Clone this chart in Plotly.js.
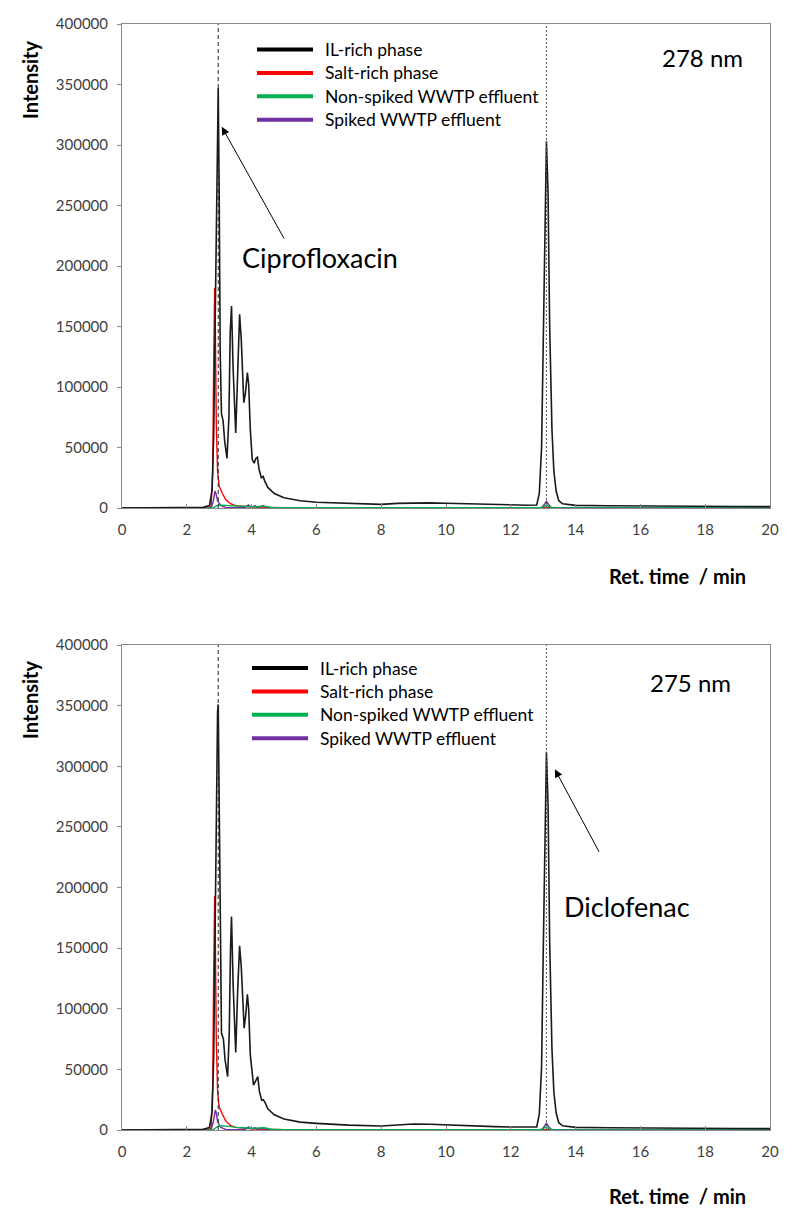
<!DOCTYPE html>
<html><head><meta charset="utf-8">
<script src="https://cdn.plot.ly/plotly-3.0.1.min.js"></script>
<style>body{margin:0;background:#fff}#c{width:800px;height:1226px}</style>
</head><body><div id="c"></div>
<script>
// ---------- DATA ----------
const seriesNames = ["IL-rich phase", "Salt-rich phase", "Non-spiked WWTP effluent", "Spiked WWTP effluent"];
const wavelengths = ["278 nm", "275 nm"];
const compounds = ["Ciprofloxacin", "Diclofenac"];
const refTimes = [2.97, 13.1];
const xTicks = [0, 2, 4, 6, 8, 10, 12, 14, 16, 18, 20];
const yTicks = [0, 50000, 100000, 150000, 200000, 250000, 300000, 350000, 400000];

// 278 nm panel
const ilTime278 = [0, 2.5, 2.7, 2.78, 2.83, 2.88, 2.92, 2.95, 2.97, 3.0, 3.03, 3.07, 3.12, 3.17, 3.24, 3.3, 3.34, 3.38, 3.43, 3.51, 3.57, 3.63, 3.68, 3.76, 3.81, 3.87, 3.91, 3.96, 4.02, 4.08, 4.13, 4.18, 4.23, 4.3, 4.36, 4.41, 4.5, 4.7, 5.0, 5.5, 6.0, 7.0, 8.0, 8.5, 9.0, 9.5, 10.0, 10.5, 11.0, 11.5, 12.0, 12.5, 12.8, 12.88, 12.95, 13.0, 13.05, 13.1, 13.15, 13.2, 13.27, 13.33, 13.4, 13.48, 13.6, 13.8, 14, 15, 16, 17, 18, 19, 20];
const ilInt278 = [0, 500, 2000, 15000, 60000, 170000, 285000, 340000, 347000, 260000, 130000, 78000, 72000, 55000, 41000, 75000, 145000, 167000, 115000, 62000, 120000, 160000, 140000, 87000, 95000, 112000, 102000, 65000, 40000, 37000, 41000, 42000, 32000, 25000, 26000, 22000, 17000, 12000, 8500, 6000, 4800, 3600, 3000, 3800, 4300, 4200, 3900, 3500, 3000, 2700, 2500, 2300, 2500, 12000, 50000, 140000, 240000, 303000, 260000, 150000, 65000, 30000, 14000, 6000, 3500, 2600, 2200, 1900, 1600, 1400, 1300, 1200, 1100];
const saltTime278 = [0, 2.6, 2.75, 2.8, 2.83, 2.86, 2.88, 2.91, 2.95, 3.0, 3.1, 3.2, 3.35, 3.5, 4.0, 5.0, 20];
const saltInt278 = [0, 0, 1000, 30000, 120000, 182000, 150000, 70000, 30000, 18000, 12000, 7000, 3500, 2000, 800, 300, 0];
const nonTime278 = [0, 2.8, 2.9, 3.0, 3.3, 3.6, 4.0, 4.4, 4.6, 5.0, 12.9, 13.05, 13.1, 13.15, 13.3, 20];
const nonInt278 = [0, 0, 1500, 2500, 2000, 1500, 1000, 1500, 500, 200, 200, 1500, 2500, 1500, 200, 0];
const spkTime278 = [0, 2.75, 2.82, 2.87, 2.9, 2.95, 3.0, 3.05, 3.2, 3.8, 3.9, 4.0, 4.1, 4.2, 4.35, 4.45, 5.0, 12.95, 13.05, 13.1, 13.15, 13.25, 20];
const spkInt278 = [0, 0, 6000, 14000, 12000, 6000, 4000, 2000, 500, 300, 2500, 500, 2000, 300, 2000, 300, 0, 0, 3500, 5500, 3500, 0, 0];

// 275 nm panel
const ilTime275 = [0, 2.5, 2.7, 2.78, 2.83, 2.88, 2.92, 2.95, 2.97, 3.0, 3.03, 3.07, 3.13, 3.18, 3.26, 3.31, 3.35, 3.38, 3.43, 3.51, 3.57, 3.63, 3.68, 3.77, 3.82, 3.87, 3.91, 3.96, 4.06, 4.13, 4.19, 4.24, 4.31, 4.36, 4.41, 4.5, 4.7, 5.0, 5.5, 6.0, 7.0, 8.0, 8.5, 9.0, 9.5, 10.0, 10.5, 11.0, 11.5, 12.0, 12.5, 12.8, 12.88, 12.95, 13.0, 13.05, 13.1, 13.15, 13.2, 13.27, 13.33, 13.4, 13.48, 13.6, 13.8, 14, 15, 16, 17, 18, 19, 20];
const ilInt275 = [0, 500, 2000, 15000, 60000, 175000, 290000, 345000, 351000, 265000, 135000, 80000, 75000, 58000, 44000, 80000, 150000, 176000, 120000, 64000, 115000, 152000, 135000, 84000, 95000, 112000, 100000, 62000, 37000, 41000, 44000, 32000, 24500, 25000, 23000, 17500, 12500, 9000, 6500, 5500, 4000, 3300, 4200, 5000, 4700, 4100, 3600, 3100, 2800, 2500, 2300, 2500, 13000, 52000, 145000, 250000, 312000, 268000, 155000, 67000, 31000, 14000, 6000, 3500, 2600, 2200, 1900, 1600, 1400, 1300, 1200, 1100];
const saltTime275 = [0, 2.6, 2.75, 2.8, 2.83, 2.86, 2.88, 2.91, 2.95, 3.0, 3.1, 3.2, 3.35, 3.5, 4.0, 5.0, 20];
const saltInt275 = [0, 0, 1000, 35000, 130000, 193000, 160000, 75000, 32000, 19000, 13000, 7500, 3800, 2200, 900, 300, 0];
const nonTime275 = [0, 2.8, 2.9, 3.0, 3.3, 3.6, 4.0, 4.4, 4.6, 5.0, 12.9, 13.05, 13.1, 13.15, 13.3, 20];
const nonInt275 = [0, 0, 2000, 3500, 3000, 2000, 1500, 1800, 600, 200, 200, 1500, 2500, 1500, 200, 0];
const spkTime275 = [0, 2.75, 2.82, 2.88, 2.91, 2.95, 3.0, 3.05, 3.2, 3.8, 3.9, 4.0, 4.1, 4.2, 4.35, 4.45, 5.0, 12.95, 13.05, 13.1, 13.15, 13.25, 20];
const spkInt275 = [0, 0, 7000, 16500, 14000, 7000, 4500, 2200, 500, 300, 2500, 500, 2000, 300, 2000, 300, 0, 0, 3500, 5500, 3500, 0, 0];

// ---------- STYLE ----------
const colors = ["#1a1a1a", "#ff0000", "#00b050", "#7030a0"];
const legendColors = ["#000000", "#ff0000", "#00b050", "#7030a0"];
const FONT = "Lato, 'Open Sans', sans-serif";
const W = 800, H = 1226;
const px = v => v / W, py = v => 1 - v / H;

const panels = [
  {xa: "x", ya: "y", xk: "xaxis", yk: "yaxis", top: 24, bot: 508,
   data: [[ilTime278, ilInt278], [saltTime278, saltInt278], [nonTime278, nonInt278], [spkTime278, spkInt278]],
   legTop: 49.5, legX0: 257, legX1: 313, legTx: 323},
  {xa: "x2", ya: "y2", xk: "xaxis2", yk: "yaxis2", top: 645, bot: 1130,
   data: [[ilTime275, ilInt275], [saltTime275, saltInt275], [nonTime275, nonInt275], [spkTime275, spkInt275]],
   legTop: 668, legX0: 252, legX1: 308, legTx: 318}
];

const traces = [];
const layout = {
  width: W, height: H, margin: {l: 0, r: 0, t: 0, b: 0},
  paper_bgcolor: "#fff", plot_bgcolor: "#fff", showlegend: false,
  font: {family: FONT, color: "#404040"},
  shapes: [], annotations: []
};

function note(x, y, text, size, extra) {
  return Object.assign({xref: "paper", yref: "paper", x: px(x), y: py(y), xanchor: "center", yanchor: "middle",
    text: text, showarrow: false, font: {size: size, color: "#000", family: FONT}}, extra || {});
}

panels.forEach((p, pi) => {
  const order = [1, 3, 2, 0];
  order.forEach(si => {
    traces.push({x: p.data[si][0], y: p.data[si][1], xaxis: p.xa, yaxis: p.ya, type: "scatter", mode: "lines",
      name: seriesNames[si], line: {color: colors[si], width: si === 0 ? 1.6 : 1.4}, hoverinfo: "skip"});
  });
  layout[p.xk] = {domain: [px(122), px(770)], range: [0, 20], tickvals: xTicks, ticktext: xTicks.map(String),
    showline: true, mirror: true, linecolor: "#898989", linewidth: 1, ticks: "inside", ticklen: 4, tickcolor: "#898989",
    showgrid: false, zeroline: false, tickfont: {size: 15, color: "#404040", family: FONT},
    anchor: p.ya, fixedrange: true, ticklabelstandoff: 8};
  layout[p.yk] = {domain: [py(p.bot), py(p.top)], range: [0, 400000], tickvals: yTicks, ticktext: yTicks.map(String),
    showline: true, mirror: true, linecolor: "#898989", linewidth: 1, ticks: "outside", ticklen: 4, tickcolor: "#898989",
    showgrid: false, zeroline: false, tickfont: {size: 15, color: "#404040", family: FONT},
    anchor: p.xa, fixedrange: true, ticklabelstandoff: 6};
  refTimes.forEach((t, ti) => {
    layout.shapes.push({type: "line", xref: p.xa, yref: p.ya + " domain", x0: t, x1: t, y0: 0, y1: 1,
      line: {color: ti === 0 ? "#222" : "#555", width: 1, dash: ti === 0 ? "4px,3px" : "2px,2px"}, layer: "above"});
  });
  seriesNames.forEach((n, si) => {
    const yy = p.legTop + si * 23.4;
    layout.shapes.push({type: "line", xref: "paper", yref: "paper", x0: px(p.legX0), x1: px(p.legX1), y0: py(yy), y1: py(yy),
      line: {color: legendColors[si], width: 4}});
    layout.annotations.push(note(p.legTx, yy, n, 17.5, {xanchor: "left"}));
  });
  layout.annotations.push(note(pi === 0 ? 702 : 690, pi === 0 ? 58 : 682, wavelengths[pi], 24));
  layout.annotations.push(note(30, pi === 0 ? 80 : 700, "<b>Intensity</b>", 20, {textangle: -90}));
  layout.annotations.push(note(677, pi === 0 ? 576 : 1196, "<b>Ret. time  / min</b>", 20));
});

// compound arrows + labels
layout.annotations.push({xref: "x", yref: "y", x: 3.08, y: 315000, ax: 63, ay: 113, text: "", showarrow: true,
  arrowhead: 2, arrowsize: 1.6, arrowwidth: 1, arrowcolor: "#000"});
layout.annotations.push(note(320, 257, compounds[0], 27));
layout.annotations.push({xref: "x2", yref: "y2", x: 13.36, y: 297500, ax: 45, ay: 84, text: "", showarrow: true,
  arrowhead: 2, arrowsize: 1.6, arrowwidth: 1, arrowcolor: "#000"});
layout.annotations.push(note(627, 906, compounds[1], 27));

Plotly.newPlot("c", traces, layout, {staticPlot: true, displayModeBar: false});
</script></body></html>
